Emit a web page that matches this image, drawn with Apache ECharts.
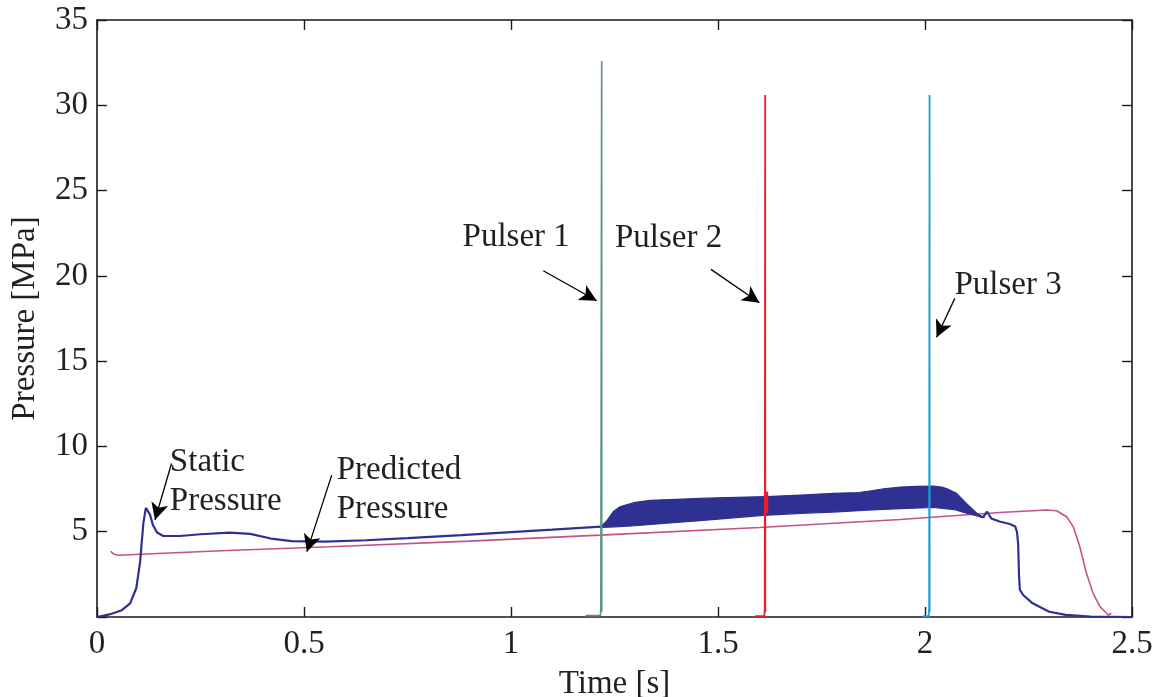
<!DOCTYPE html>
<html>
<head>
<meta charset="utf-8">
<script src="https://cdn.jsdelivr.net/npm/echarts@6/dist/echarts.min.js"></script>
<style>
html,body{margin:0;padding:0;background:#fff;}
#chart{width:1154px;height:697px;}
</style>
</head>
<body>
<div id="chart"></div>
<script>
// ---- Data (time [s], pressure [MPa]) ----
var xTicks = [0, 0.5, 1, 1.5, 2, 2.5];
var yTicks = [5, 10, 15, 20, 25, 30, 35];

var staticBefore = [[0,0],[0.03,0.15],[0.06,0.4],[0.08,0.8],[0.095,1.7],[0.104,3.2],[0.112,5.5],[0.118,6.4],[0.122,6.5],[0.128,6.0],[0.135,5.4],[0.145,4.95],[0.16,4.75],[0.2,4.75],[0.25,4.85],[0.32,4.95],[0.37,4.87],[0.42,4.6],[0.47,4.45],[0.55,4.42],[0.65,4.5],[0.75,4.62],[0.88,4.8],[1.0,4.98],[1.1,5.12],[1.217,5.3]];
var bandUpper = [[1.217,5.3],[1.23,5.6],[1.247,6.17],[1.263,6.46],[1.279,6.58],[1.3,6.72],[1.336,6.84],[1.4,6.9],[1.456,6.95],[1.52,7.0],[1.617,7.06],[1.7,7.15],[1.778,7.25],[1.84,7.3],[1.87,7.4],[1.9,7.52],[1.94,7.62],[1.98,7.66],[2.02,7.68],[2.04,7.62],[2.052,7.53],[2.076,7.25],[2.1,6.66],[2.125,6.08],[2.14,5.85]];
var bandLower = [[1.217,5.25],[1.25,5.28],[1.3,5.35],[1.376,5.5],[1.464,5.66],[1.53,5.8],[1.61,5.96],[1.7,6.08],[1.778,6.15],[1.86,6.26],[1.94,6.35],[2.02,6.42],[2.07,6.3],[2.1,6.08],[2.133,5.88],[2.14,5.85]];
var staticAfter = [[2.133,5.88],[2.14,5.85],[2.15,6.17],[2.16,5.78],[2.18,5.6],[2.205,5.45],[2.218,5.3],[2.222,5.0],[2.225,4.3],[2.227,2.5],[2.229,1.6],[2.237,1.29],[2.26,0.8],[2.3,0.31],[2.34,0.12],[2.4,0.03],[2.5,0]];
var predicted = [[0.033,3.85],[0.04,3.7],[0.05,3.62],[0.3,3.88],[0.563,4.12],[0.9,4.45],[1.215,4.8],[1.6,5.25],[1.94,5.72],[2.18,6.13],[2.294,6.27],[2.318,6.23],[2.342,5.88],[2.358,5.3],[2.374,4.12],[2.39,2.56],[2.406,1.39],[2.423,0.6],[2.443,0.12],[2.45,0.22]];
var pulser1 = [[1.18,0.08],[1.216,0.08],[1.217,0.5],[1.219,32.6],[1.2192,0.3]];
var pulser2 = [[1.59,0.05],[1.612,0.05],[1.613,0.5],[1.614,30.6],[1.6142,0.3]];
var pulser2Burst = [[1.6165,6.1],[1.6165,7.35]];
var pulser3 = [[1.995,0.05],[2.009,0.05],[2.010,0.5],[2.011,30.6],[2.0112,0.3]];

// annotations: [text, anchor t, anchor p]
var labels = [
  ['Static\nPressure', 0.176, 7.94],
  ['Predicted\nPressure', 0.579, 7.44],
  ['Pulser 1', 0.883, 22.24],
  ['Pulser 2', 1.251, 22.2],
  ['Pulser 3', 2.071, 19.46]
];
// arrows: [start t, start p, tip t, tip p]
var arrows = [
  [0.18, 9.0, 0.14, 5.69],
  [0.567, 8.32, 0.507, 3.83],
  [1.078, 20.3, 1.207, 18.54],
  [1.483, 20.38, 1.600, 18.42],
  [2.072, 18.68, 2.028, 16.4]
];

var FONT = 'Liberation Serif';
var chart = echarts.init(document.getElementById('chart'), null, {renderer:'canvas'});

function axisCommon(){
  return {
    axisLine:{show:true, onZero:false, lineStyle:{color:'#1a1a1a', width:1.6}},
    axisTick:{show:true, inside:true, length:10, lineStyle:{color:'#1a1a1a', width:1.4}},
    splitLine:{show:false}
  };
}

var option = {
  animation:false,
  backgroundColor:'#ffffff',
  grid:{left:97, right:22, top:20, bottom:80, containLabel:false, outerBoundsMode:'none'},
  xAxis:[
    Object.assign(axisCommon(), {
      type:'value', min:0, max:2.5, interval:0.5, position:'bottom',
      name:'Time [s]', nameLocation:'middle', nameGap:51,
      nameTextStyle:{fontFamily:FONT, fontSize:33, color:'#231f20'},
      axisLabel:{fontFamily:FONT, fontSize:33, color:'#231f20', margin:11,
        formatter:function(v){ return xTicks.indexOf(v) >= 0 ? String(v) : ''; }}
    }),
    Object.assign(axisCommon(), {
      type:'value', min:0, max:2.5, interval:0.5, position:'top',
      axisLabel:{show:false}
    })
  ],
  yAxis:[
    Object.assign(axisCommon(), {
      type:'value', min:0, max:35, interval:5, position:'left',
      name:'Pressure [MPa]', nameLocation:'middle', nameGap:55, nameRotate:90,
      nameTextStyle:{fontFamily:FONT, fontSize:33, color:'#231f20'},
      axisLabel:{fontFamily:FONT, fontSize:33, color:'#231f20', margin:9,
        formatter:function(v){ return yTicks.indexOf(v) >= 0 ? String(v) : ''; }}
    }),
    Object.assign(axisCommon(), {
      type:'value', min:0, max:35, interval:5, position:'right',
      axisLabel:{show:false}
    })
  ],
  series:[
    {
      type:'line', name:'predicted', data:predicted, showSymbol:false, symbol:'none',
      lineStyle:{color:'#c4508c', width:1.6}, z:3
    },
    {
      type:'line', name:'staticBefore', data:staticBefore, showSymbol:false, symbol:'none',
      lineStyle:{color:'#2e3192', width:2.2}, z:4
    },
    {
      type:'custom', name:'band', data:[[1.6, 6.5]], z:4,
      renderItem:function(params, api){
        var pts = [];
        for (var i=0;i<bandUpper.length;i++) pts.push(api.coord(bandUpper[i]));
        for (var j=bandLower.length-1;j>=0;j--) pts.push(api.coord(bandLower[j]));
        return {type:'polygon', shape:{points:pts}, style:{fill:'#2e3192', stroke:'#2e3192', lineWidth:1.2}};
      }
    },
    {
      type:'line', name:'staticAfter', data:staticAfter, showSymbol:false, symbol:'none',
      lineStyle:{color:'#2e3192', width:2.2}, z:4
    },
    {
      type:'line', name:'pulser1', data:pulser1, showSymbol:false, symbol:'none',
      lineStyle:{color:'#5b9279', width:1.6}, z:5
    },
    {
      type:'line', name:'pulser2', data:pulser2, showSymbol:false, symbol:'none',
      lineStyle:{color:'#ee1c25', width:1.8}, z:5
    },
    {
      type:'line', name:'pulser2Burst', data:pulser2Burst, showSymbol:false, symbol:'none',
      lineStyle:{color:'#ee1c25', width:4}, z:5
    },
    {
      type:'line', name:'pulser3', data:pulser3, showSymbol:false, symbol:'none',
      lineStyle:{color:'#1ba0d0', width:1.8}, z:5
    },
    {
      type:'line', name:'annotations', data:[], z:6,
      markLine:{
        silent:true, animation:false,
        symbol:['none','arrow'], symbolSize:[13,17],
        label:{show:false},
        lineStyle:{color:'#000', width:1.3, type:'solid'},
        data: arrows.map(function(a){ return [{coord:[a[0],a[1]]},{coord:[a[2],a[3]]}]; })
      },
      markPoint:{
        silent:true, animation:false, symbol:'circle', symbolSize:0,
        label:{show:true, position:'right', distance:0, align:'left',
          fontFamily:FONT, fontSize:33, color:'#231f20', lineHeight:39},
        data: labels.map(function(l){ return {coord:[l[1], l[2]], value:l[0], label:{formatter:l[0]}}; })
      }
    }
  ]
};
chart.setOption(option);
</script>
</body>
</html>
